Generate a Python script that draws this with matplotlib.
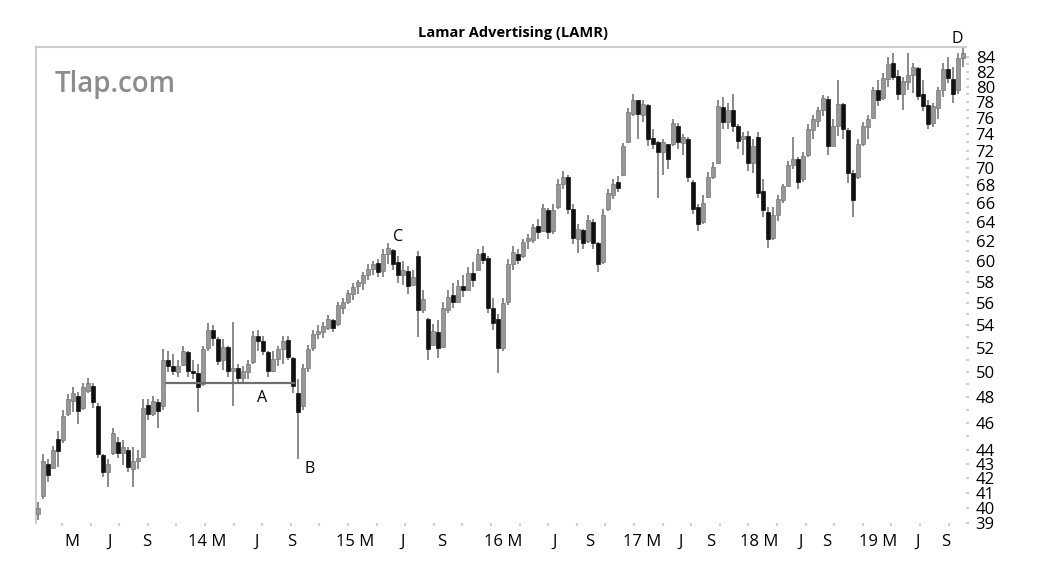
import matplotlib
matplotlib.use('Agg')
import matplotlib.pyplot as plt
from matplotlib.ticker import FixedLocator, FixedFormatter, NullFormatter
import numpy as np

plt.rcParams['font.family'] = ['Open Sans', 'DejaVu Sans']

# weekly-ish bars (LAMR 2013 - 2019)
opens = [39.6, 40.8, 43.0, 42.7, 44.8, 44.7, 46.7, 47.7, 48.1, 47.1,
         48.5, 48.9, 47.3, 43.6, 42.4, 43.8, 44.6, 43.8, 44.0, 42.6,
         43.2, 43.5, 47.4, 46.7, 47.6, 47.3, 51.0, 50.5, 50.0, 50.6,
         51.7, 50.1, 49.9, 49.0, 52.0, 53.6, 52.8, 51.0, 52.1, 50.1,
         50.3, 49.5, 50.0, 50.8, 53.1, 52.6, 51.7, 50.1, 51.1, 51.9,
         52.7, 51.2, 48.3, 47.3, 50.3, 52.0, 53.2, 53.4, 53.8, 54.5,
         54.1, 55.6, 56.1, 56.9, 57.6, 57.9, 58.7, 59.3, 59.8, 59.1,
         60.7, 61.1, 59.9, 58.7, 59.1, 57.7, 60.5, 55.4, 54.6, 52.3,
         53.4, 52.1, 55.4, 56.8, 56.1, 57.6, 57.2, 58.9, 59.2, 60.8,
         60.3, 55.6, 54.6, 52.0, 56.1, 59.7, 60.7, 60.5, 62.0, 62.2,
         63.6, 63.1, 65.3, 63.1, 65.6, 68.1, 68.9, 65.4, 62.3, 63.2,
         62.0, 64.0, 61.8, 59.9, 65.4, 66.9, 68.4, 69.2, 73.0, 76.5,
         78.2, 76.4, 77.6, 73.5, 73.0, 71.8, 72.8, 72.8, 75.0, 72.9,
         73.4, 68.4, 65.6, 64.0, 66.7, 68.9, 70.6, 77.4, 75.5, 77.0,
         75.0, 73.4, 73.8, 70.5, 73.6, 67.4, 65.1, 62.4, 64.8, 66.4,
         67.9, 70.3, 71.0, 68.7, 71.5, 74.5, 75.6, 77.0, 78.4, 72.6,
         75.0, 77.7, 74.5, 69.4, 68.9, 72.8, 74.8, 76.0, 79.5, 78.5,
         81.0, 83.2, 81.4, 79.0, 80.6, 81.5, 82.5, 79.0, 77.6, 75.3,
         77.2, 79.6, 82.3, 81.0, 79.5, 83.8]
highs = [40.4, 43.7, 43.3, 44.3, 45.4, 47.0, 48.2, 48.8, 48.4, 49.1,
         49.5, 49.1, 47.5, 43.7, 43.3, 45.6, 44.9, 44.7, 44.2, 44.2,
         44.0, 47.8, 47.8, 48.1, 47.8, 51.9, 51.8, 51.5, 51.0, 52.2,
         51.8, 51.0, 50.7, 52.2, 54.2, 54.0, 53.0, 52.8, 52.2, 54.3,
         50.7, 50.5, 51.0, 53.5, 53.6, 53.1, 51.8, 51.8, 52.2, 53.1,
         53.1, 51.3, 49.4, 50.7, 52.3, 53.6, 54.0, 54.3, 54.9, 54.6,
         56.1, 56.5, 57.2, 57.9, 58.2, 59.0, 59.7, 60.0, 60.2, 61.2,
         61.8, 61.2, 60.5, 60.0, 59.5, 59.2, 61.0, 57.2, 54.7, 54.1,
         54.5, 56.1, 57.2, 57.9, 58.2, 58.7, 59.4, 59.9, 61.2, 61.5,
         60.5, 56.5, 55.0, 56.5, 60.2, 61.5, 61.2, 62.3, 62.8, 63.8,
         64.3, 65.9, 65.5, 65.9, 68.7, 69.6, 69.2, 65.9, 63.8, 63.3,
         64.8, 64.3, 61.9, 65.4, 67.6, 68.7, 69.1, 72.9, 77.2, 79.0,
         78.3, 78.3, 77.8, 74.6, 73.2, 73.4, 72.6, 75.9, 75.3, 74.0,
         73.6, 68.6, 65.9, 66.9, 69.5, 70.7, 78.3, 78.6, 77.9, 79.0,
         75.2, 74.3, 74.4, 73.4, 74.3, 68.7, 65.6, 65.6, 66.9, 68.2,
         70.8, 73.6, 71.3, 71.8, 75.2, 76.4, 77.4, 78.9, 78.8, 75.8,
         80.9, 77.9, 74.7, 69.8, 73.4, 75.5, 76.4, 80.0, 80.9, 81.8,
         84.0, 84.5, 82.2, 81.3, 84.5, 83.2, 82.6, 80.9, 78.3, 77.9,
         80.0, 83.2, 84.0, 82.6, 84.5, 85.4]
lows = [39.2, 40.6, 41.7, 42.6, 42.8, 44.5, 46.5, 46.8, 45.9, 47.0,
        48.3, 47.1, 43.4, 42.1, 41.4, 43.6, 43.4, 42.9, 42.4, 41.4,
        42.6, 43.4, 46.2, 46.5, 45.6, 47.0, 50.0, 49.8, 49.6, 50.5,
        49.6, 49.4, 46.8, 48.9, 51.8, 52.2, 50.6, 50.2, 49.6, 47.3,
        49.1, 49.1, 49.4, 50.7, 51.8, 51.4, 49.6, 50.0, 50.5, 50.7,
        51.0, 48.3, 43.3, 47.0, 50.0, 51.8, 52.8, 52.9, 53.6, 53.4,
        53.9, 55.0, 55.9, 56.3, 56.9, 57.2, 58.2, 58.7, 58.5, 58.5,
        59.7, 59.2, 57.9, 57.7, 56.9, 57.6, 53.0, 55.1, 51.0, 52.3,
        51.2, 52.0, 55.1, 55.6, 56.0, 56.6, 57.2, 57.5, 59.2, 59.7,
        55.1, 53.6, 49.9, 51.8, 55.8, 59.2, 59.7, 60.3, 61.2, 61.8,
        62.3, 63.0, 62.3, 62.8, 65.4, 67.6, 64.9, 61.7, 60.8, 61.2,
        61.8, 61.2, 59.0, 59.7, 65.2, 66.5, 67.3, 69.1, 72.9, 76.2,
        73.4, 75.5, 72.6, 72.2, 66.6, 69.2, 69.9, 72.6, 72.2, 71.5,
        68.4, 64.9, 63.1, 63.8, 66.6, 68.7, 70.4, 74.6, 74.6, 74.2,
        72.2, 71.5, 69.6, 69.4, 66.6, 64.6, 61.3, 62.2, 64.1, 66.0,
        67.9, 69.9, 67.6, 68.4, 71.3, 73.4, 74.9, 76.2, 71.5, 72.6,
        73.8, 73.4, 68.3, 64.5, 68.7, 72.6, 73.4, 75.8, 77.5, 78.3,
        80.0, 80.9, 78.3, 77.0, 79.6, 79.2, 78.3, 76.8, 74.6, 74.9,
        75.8, 78.6, 80.5, 77.9, 79.0, 82.6]
closes = [40.0, 43.2, 42.2, 44.0, 43.9, 46.5, 47.8, 48.3, 46.9, 48.8,
          49.1, 47.6, 43.7, 42.4, 43.0, 45.2, 43.8, 44.2, 42.8, 43.2,
          43.4, 47.1, 46.7, 47.7, 46.9, 51.0, 50.5, 50.1, 50.5, 51.8,
          50.1, 49.9, 48.8, 51.9, 53.6, 52.9, 50.9, 52.1, 50.1, 50.3,
          49.5, 50.1, 50.7, 53.1, 52.6, 51.8, 50.1, 51.1, 51.9, 52.6,
          51.3, 48.9, 46.8, 50.3, 51.9, 53.2, 53.5, 53.9, 54.6, 53.8,
          55.8, 56.1, 57.0, 57.5, 58.0, 58.7, 59.3, 59.7, 59.0, 60.7,
          61.3, 59.7, 58.7, 59.2, 57.6, 58.5, 55.4, 56.4, 51.9, 53.5,
          52.0, 55.6, 56.6, 56.1, 57.6, 57.2, 58.9, 58.2, 60.7, 60.1,
          55.6, 54.2, 52.0, 56.0, 59.7, 60.9, 60.1, 61.9, 62.4, 63.5,
          63.0, 65.5, 63.0, 65.3, 68.2, 69.0, 65.4, 62.4, 63.3, 61.8,
          64.2, 61.8, 59.7, 64.8, 67.1, 68.2, 67.7, 72.5, 76.7, 78.3,
          76.5, 77.8, 73.4, 72.8, 71.8, 73.0, 71.0, 75.3, 73.0, 73.6,
          68.9, 65.4, 63.8, 66.1, 68.9, 70.1, 77.5, 75.5, 77.0, 75.0,
          73.2, 73.8, 70.6, 72.6, 67.2, 65.3, 62.3, 64.8, 66.5, 67.9,
          70.3, 71.0, 68.4, 71.4, 74.6, 75.8, 77.0, 78.5, 72.5, 75.0,
          77.8, 74.6, 69.4, 66.4, 72.8, 75.0, 75.9, 79.5, 78.2, 81.2,
          83.0, 81.3, 79.0, 80.8, 81.5, 82.6, 78.8, 77.5, 75.2, 77.5,
          79.6, 82.4, 81.2, 79.0, 83.8, 84.5]

x_labels = ['M', 'J', 'S', '14 M', 'J', 'S', '15 M', 'J', 'S', '16 M', 'J', 'S',
            '17 M', 'J', 'S', '18 M', 'J', 'S', '19 M', 'J', 'S']
x_label_pos = [6.8, 14.4, 21.8, 33.8, 43.8, 50.8, 63.4, 73.0, 80.8, 93.0, 103.4,
               110.4, 120.8, 128.6, 134.6, 144.2, 152.6, 157.8, 168.0, 176.0, 181.6]
y_ticks = [39, 40, 41, 42, 43, 44, 46, 48, 50, 52, 54, 56, 58, 60, 62, 64, 66, 68,
           70, 72, 74, 76, 78, 80, 82, 84]

o = np.array(opens)
h = np.array(highs)
l = np.array(lows)
c = np.array(closes)
idx = np.arange(len(c))
up = c >= o

fig = plt.figure(figsize=(10.39, 5.65), dpi=100)
ax = fig.add_axes([36/1039, 1-523/565, 930/1039, 476/565])

ax.vlines(idx, l, h, color='#777777', lw=1.2, zorder=2)
ax.bar(idx[up], (c-o)[up], bottom=o[up], width=0.82, color='#979797',
       edgecolor='#777777', lw=0.5, zorder=3)
ax.bar(idx[~up], (o-c)[~up], bottom=c[~up], width=0.82, color='#101010',
       edgecolor='#101010', lw=0.5, zorder=3)

# support line A
ax.hlines(49.1, 25.4, 51.4, color='#6e6e6e', lw=1.6, zorder=4)
ax.text(44.8, 47.9, 'A', fontsize=11.5, ha='center', va='center')
ax.text(54.4, 42.6, 'B', fontsize=11.5, ha='center', va='center')
ax.text(72.0, 62.5, 'C', fontsize=11.5, ha='center', va='center')
ax.text(183.8, 86.5, 'D', fontsize=11.5, ha='center', va='center', clip_on=False)

ax.set_yscale('log')
ax.set_ylim(39, 85.4)
ax.set_xlim(-0.4, 185.6)

ax.yaxis.tick_right()
ax.yaxis.set_major_locator(FixedLocator(y_ticks))
ax.yaxis.set_major_formatter(FixedFormatter([str(t) for t in y_ticks]))
ax.yaxis.set_minor_locator(FixedLocator(list(range(45, 84, 2))))
ax.yaxis.set_minor_formatter(NullFormatter())
ax.tick_params(axis='y', which='both', length=2, width=1.5, color='#d0d0d0',
               labelsize=12, pad=5)

ax.set_xticks(x_label_pos)
ax.set_xticklabels(x_labels)
ax.set_xticks(4.8 + 5.72*np.arange(32), minor=True)
ax.tick_params(axis='x', which='major', length=0, labelsize=12, pad=8)
ax.tick_params(axis='x', which='minor', length=2, width=1.5, color='#d0d0d0')

for s in ['right', 'bottom']:
    ax.spines[s].set_visible(False)
for s in ['top', 'left']:
    ax.spines[s].set_color('#cccccc')
    ax.spines[s].set_linewidth(1.5)

ax.text(0.02, 0.922, 'Tlap.com', transform=ax.transAxes, fontsize=20,
        color='#8c8c8c', va='center', ha='left', fontweight='semibold',
        family=['Open Sans', 'DejaVu Sans'])
fig.text(513/1039, 1-33/565, 'Lamar Advertising (LAMR)', ha='center', va='center',
         fontsize=10.5, fontweight='bold')

fig.savefig('out.png', dpi=100)
